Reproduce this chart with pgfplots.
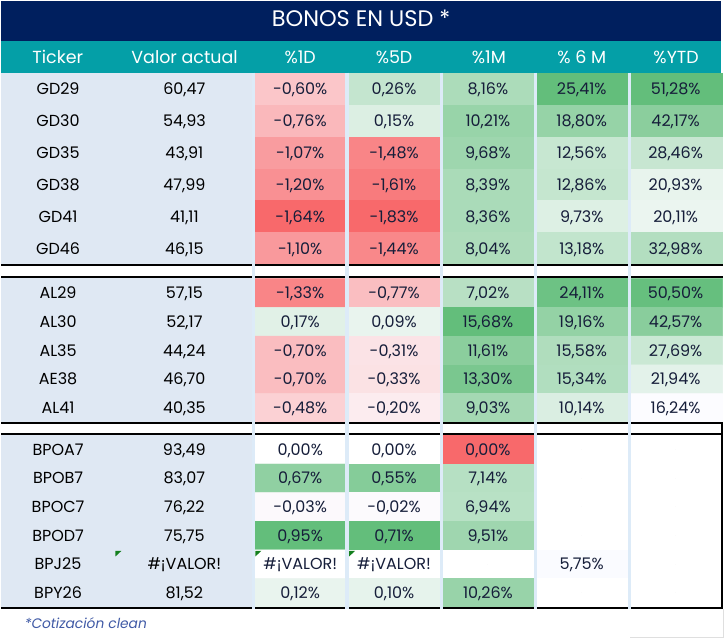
\documentclass[border=0pt]{standalone}
\usepackage{fontspec}
\setmainfont{Poppins}
\usepackage{pgfplots}
\usepackage{pgfplotstable}
\pgfplotsset{compat=1.18}
\definecolor{navy}{RGB}{0,31,94}
\definecolor{teal}{RGB}{4,159,167}
\definecolor{leftbg}{RGB}{223,232,243}
\definecolor{sepblue}{RGB}{221,235,248}
\definecolor{celltxt}{RGB}{22,30,58}
\definecolor{notecol}{RGB}{64,90,166}
\definecolor{errgreen}{RGB}{20,128,30}

% ---- group 1 : GD bonds (cells: x y colour label) ----
\pgfplotstableread{
x y C lab
300 89 rgb255=251,198,201 -0,60\%
394 89 rgb255=196,229,207 0,26\%
488 89 rgb255=172,220,186 8,16\%
582 89 rgb255=99,190,123 25,41\%
676 89 rgb255=99,190,123 51,28\%
300 121 rgb255=250,184,187 -0,76\%
394 121 rgb255=220,239,227 0,15\%
488 121 rgb255=152,212,169 10,21\%
582 121 rgb255=150,211,167 18,80\%
676 121 rgb255=139,206,157 42,17\%
300 153 rgb255=249,156,159 -1,07\%
394 153 rgb255=249,133,135 -1,48\%
488 153 rgb255=158,214,174 9,68\%
582 153 rgb255=199,231,209 12,56\%
676 153 rgb255=199,230,209 28,46\%
300 185 rgb255=249,144,147 -1,20\%
394 185 rgb255=248,123,125 -1,61\%
488 185 rgb255=170,219,184 8,39\%
582 185 rgb255=197,230,207 12,86\%
676 185 rgb255=232,244,237 20,93\%
300 217 rgb255=248,105,107 -1,64\%
394 217 rgb255=248,105,107 -1,83\%
488 217 rgb255=170,219,185 8,36\%
582 217 rgb255=221,240,228 9,73\%
676 217 rgb255=235,245,240 20,11\%
300 249 rgb255=249,153,156 -1,10\%
394 249 rgb255=249,136,138 -1,44\%
488 249 rgb255=174,220,187 8,04\%
582 249 rgb255=194,229,205 13,18\%
676 249 rgb255=179,222,192 32,98\%
}\Gone
\pgfplotstableread{
y tick val
89 GD29 60,47
121 GD30 54,93
153 GD35 43,91
185 GD38 47,99
217 GD41 41,11
249 GD46 46,15
}\Lone

% ---- group 2 : AL / AE bonds ----
\pgfplotstableread{
x y C lab
300 293.4 rgb255=249,133,135 -1,33\%
394 293.4 rgb255=250,190,193 -0,77\%
488 293.4 rgb255=184,224,196 7,02\%
582 293.4 rgb255=109,194,132 24,11\%
676 293.4 rgb255=102,191,126 50,50\%
300 322.2 rgb255=225,241,231 0,17\%
394 322.2 rgb255=233,244,238 0,09\%
488 322.2 rgb255=99,190,123 15,68\%
582 322.2 rgb255=148,210,165 19,16\%
676 322.2 rgb255=137,205,156 42,57\%
300 351 rgb255=250,189,192 -0,70\%
394 351 rgb255=251,227,230 -0,31\%
488 351 rgb255=139,206,157 11,61\%
582 351 rgb255=176,221,189 15,58\%
676 351 rgb255=202,232,212 27,69\%
300 379.8 rgb255=250,189,192 -0,70\%
394 379.8 rgb255=251,226,228 -0,33\%
488 379.8 rgb255=122,199,143 13,30\%
582 379.8 rgb255=177,222,191 15,34\%
676 379.8 rgb255=227,242,234 21,94\%
300 408.6 rgb255=251,209,212 -0,48\%
394 408.6 rgb255=252,236,239 -0,20\%
488 408.6 rgb255=164,216,179 9,03\%
582 408.6 rgb255=218,238,226 10,14\%
676 408.6 rgb255=252,252,255 16,24\%
}\Gtwo
\pgfplotstableread{
y tick val
293.4 AL29 57,15
322.2 AL30 52,17
351 AL35 44,24
379.8 AE38 46,70
408.6 AL41 40,35
}\Ltwo

% ---- group 3 : BPO / BP bonds ----
\pgfplotstableread{
x y C lab
300 450.33 rgb255=255,255,255 0,00\%
394 450.33 rgb255=255,255,255 0,00\%
488 450.33 rgb255=248,105,107 0,00\%
582 450.33 rgb255=255,255,255 {}
676 450.33 rgb255=255,255,255 {}
300 479 rgb255=144,208,162 0,67\%
394 479 rgb255=133,204,153 0,55\%
488 479 rgb255=182,224,195 7,14\%
582 479 rgb255=255,255,255 {}
676 479 rgb255=255,255,255 {}
300 507.67 rgb255=252,249,252 -0,03\%
394 507.67 rgb255=252,250,253 -0,02\%
488 507.67 rgb255=184,225,197 6,94\%
582 507.67 rgb255=255,255,255 {}
676 507.67 rgb255=255,255,255 {}
300 536.33 rgb255=99,190,123 0,95\%
394 536.33 rgb255=99,190,123 0,71\%
488 536.33 rgb255=159,214,175 9,51\%
582 536.33 rgb255=255,255,255 {}
676 536.33 rgb255=255,255,255 {}
300 565 rgb255=255,255,255 \#¡VALOR!
394 565 rgb255=255,255,255 \#¡VALOR!
488 565 rgb255=255,255,255 {}
582 565 rgb255=250,251,255 5,75\%
676 565 rgb255=255,255,255 {}
300 593.67 rgb255=233,244,238 0,12\%
394 593.67 rgb255=230,243,236 0,10\%
488 593.67 rgb255=152,211,169 10,26\%
582 593.67 rgb255=255,255,255 {}
676 593.67 rgb255=255,255,255 {}
}\Gthree
\pgfplotstableread{
y tick val
450.33 BPOA7 93,49
479 BPOB7 83,07
507.67 BPOC7 76,22
536.33 BPOD7 75,75
565 BPJ25 \#¡VALOR!
593.67 BPY26 81,52
}\Lthree

\pgfplotsset{
  hmcells/.style={matrix plot*, mesh/cols=5, mesh/color input=explicit,
    point meta=explicit symbolic},
  hmlabels/.style={only marks, mark=*, mark size=0pt,
    mark options={draw=none, fill=none},
    point meta=explicit symbolic, nodes near coords,
    every node near coord/.append style={anchor=base, yshift=-5.6pt,
      font=\fontsize{16}{18}\selectfont, text=#1, inner sep=0pt}},
}

\begin{document}
\begin{tikzpicture}
\begin{axis}[
  x=1pt, y=1pt,
  xmin=0, xmax=724, ymin=0, ymax=639,
  y dir=reverse,
  enlargelimits=false,
  axis line style={draw=none},
  xtick=\empty, ytick=\empty,
  axis background/.style={fill=white},
  clip=false,
]
% title and header bands
\addplot[fill=navy, draw=none] coordinates {(0.5,1) (721.5,1) (721.5,41) (0.5,41)};
\addplot[fill=teal, draw=none] coordinates {(0.5,41) (721.5,41) (721.5,72.7) (0.5,72.7)};
% left blocks
\addplot[fill=leftbg, draw=none] coordinates {(0.5,72.7) (253,72.7) (253,265) (0.5,265)};
\addplot[fill=leftbg, draw=none] coordinates {(0.5,278) (253,278) (253,424) (0.5,424)};
\addplot[fill=leftbg, draw=none] coordinates {(0.5,435) (253,435) (253,609) (0.5,609)};
% heat-map cells
\addplot[hmcells] table[x=x, y=y, meta=C] {\Gone};
\addplot[hmcells] table[x=x, y=y, meta=C] {\Gtwo};
\addplot[hmcells] table[x=x, y=y, meta=C] {\Gthree};
% black rules
\addplot[black, line width=2.3pt] coordinates {(0.5,265.5) (723.3,265.5)};
\addplot[black, line width=2.1pt] coordinates {(0.5,277.7) (723.3,277.7)};
\addplot[black, line width=2.1pt] coordinates {(0.5,424) (723.3,424)};
\addplot[black, line width=2.1pt] coordinates {(0.5,435) (723.3,435)};
\addplot[black, line width=2.3pt] coordinates {(0.5,609) (723.3,609)};
\addplot[black, line width=2pt] coordinates {(722.3,423) (722.3,610.1)};
% light gray outer border bottom right
\addplot[gray!25, line width=0.8pt] coordinates {(723.6,610) (723.6,638.5) (630,638.5)};
% column separators
\addplot[sepblue, line width=3.3pt] coordinates {(253.4,72.7) (253.4,610.2)};
\addplot[sepblue, line width=3.6pt] coordinates {(347,72.7) (347,610.2)};
\addplot[sepblue, line width=3.3pt] coordinates {(441.5,72.7) (441.5,610.2)};
\addplot[sepblue, line width=3.3pt] coordinates {(535.5,72.7) (535.5,610.2)};
\addplot[sepblue, line width=3.3pt] coordinates {(629.5,72.7) (629.5,610.2)};
% error indicators
\addplot[fill=errgreen, draw=none] coordinates {(115,551.7) (121,551.7) (115,557.3)};
\addplot[fill=errgreen, draw=none] coordinates {(255.2,551.7) (261,551.7) (255.2,557.3)};
\addplot[fill=errgreen, draw=none] coordinates {(349,551.7) (355,551.7) (349,557.3)};
% labels
\addplot[hmlabels=celltxt] table[x=x, y=y, meta=lab] {\Gone};
\addplot[hmlabels=celltxt] table[x=x, y=y, meta=lab] {\Gtwo};
\addplot[hmlabels=celltxt] table[x=x, y=y, meta=lab] {\Gthree};
\addplot[hmlabels=black] table[x expr=57.5, y=y, meta=tick] {\Lone};
\addplot[hmlabels=black] table[x expr=184, y=y, meta=val] {\Lone};
\addplot[hmlabels=black] table[x expr=57.5, y=y, meta=tick] {\Ltwo};
\addplot[hmlabels=black] table[x expr=184, y=y, meta=val] {\Ltwo};
\addplot[hmlabels=black] table[x expr=57.5, y=y, meta=tick] {\Lthree};
\addplot[hmlabels=black] table[x expr=184, y=y, meta=val] {\Lthree};
% title, header, note
\node[anchor=base, text=white, font=\fontsize{22.5}{26}\selectfont, inner sep=0pt]
  at (axis cs:361,27) {BONOS EN USD *};
\begin{scope}[every node/.style={anchor=base, text=white, inner sep=0pt,
    font=\fontsize{17.5}{20}\selectfont}]
\node at (axis cs:57.2,63.3) {Ticker};
\node at (axis cs:184.2,63.3) {Valor actual};
\node at (axis cs:300,63.3) {\%1D};
\node at (axis cs:394,63.3) {\%5D};
\node at (axis cs:489,63.3) {\%1M};
\node at (axis cs:582,63.3) {\% 6 M};
\node at (axis cs:676.5,63.3) {\%YTD};
\end{scope}
\node[anchor=base west, text=notecol, inner sep=0pt,
  font=\fontsize{13.8}{16}\selectfont\itshape] at (axis cs:24,629.5) {*Cotización clean};
\end{axis}
\end{tikzpicture}
\end{document}
